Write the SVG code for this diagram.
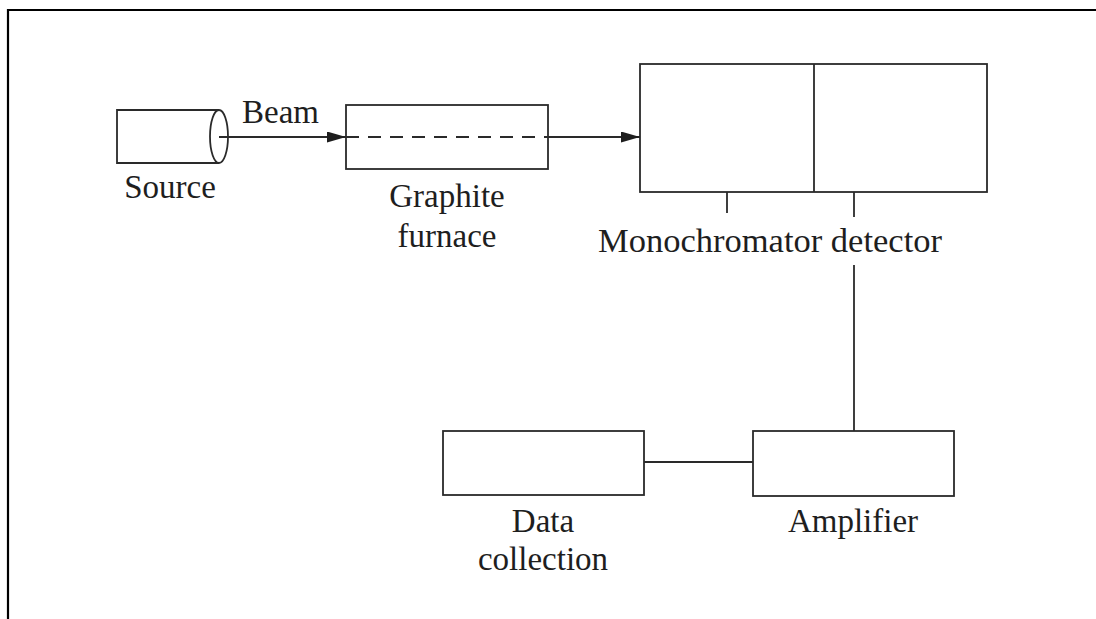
<svg xmlns="http://www.w3.org/2000/svg" width="1096" height="619" viewBox="0 0 1096 619">
  <style>
    .box { fill: #ffffff; stroke: #2a2a2a; stroke-width: 1.8; }
    .ln { fill: none; stroke: #2a2a2a; stroke-width: 1.8; }
    .lbl { font-family: "Liberation Serif", "Times New Roman", serif; font-size: 33px; fill: #1e1e1e; }
  </style>
  <defs>
    <marker id="arr" viewBox="0 0 19 11" refX="19" refY="5.5" markerWidth="19" markerHeight="11" markerUnits="userSpaceOnUse" orient="auto">
      <path d="M0,0 L19,5.5 L0,11 Z" fill="#1e1e1e"/>
    </marker>
  </defs>
  <rect x="0" y="0" width="1096" height="619" fill="#ffffff"/>
  <!-- frame -->
  <path d="M8,619 V10 H1096" fill="none" stroke="#000" stroke-width="2.2"/>

  <g id="source">
    <path class="ln" d="M219,110 H117 V163 H219"/>
    <ellipse class="box" cx="219" cy="136.5" rx="9" ry="26.5"/>
    <text class="lbl" x="170" y="198" text-anchor="middle">Source</text>
  </g>

  <g id="furnace">
    <rect class="box" x="346" y="105" width="202" height="64"/>
    <line class="ln" x1="346" y1="137" x2="548" y2="137" stroke-dasharray="13 9"/>
    <text class="lbl" x="447" y="207" text-anchor="middle">Graphite</text>
    <text class="lbl" x="447" y="247" text-anchor="middle">furnace</text>
  </g>

  <g id="monochromator-detector">
    <rect class="box" x="640" y="64" width="347" height="128"/>
    <line class="ln" x1="814" y1="64" x2="814" y2="192"/>
    <line class="ln" x1="727" y1="192" x2="727" y2="213"/>
    <line class="ln" x1="854" y1="192" x2="854" y2="217"/>
    <text class="lbl" x="770" y="252" text-anchor="middle" style="font-size:34.5px">Monochromator detector</text>
  </g>

  <g id="data-collection">
    <rect class="box" x="443" y="431" width="201" height="64"/>
    <text class="lbl" x="543" y="532" text-anchor="middle">Data</text>
    <text class="lbl" x="543" y="570" text-anchor="middle">collection</text>
  </g>

  <g id="amplifier">
    <rect class="box" x="753" y="431" width="201" height="65"/>
    <text class="lbl" x="853" y="532" text-anchor="middle">Amplifier</text>
  </g>

  <g id="connectors">
    <line class="ln" x1="219" y1="137" x2="346" y2="137" marker-end="url(#arr)"/>
    <text class="lbl" x="242" y="123">Beam</text>
    <line class="ln" x1="548" y1="137" x2="640" y2="137" marker-end="url(#arr)"/>
    <line class="ln" x1="854" y1="265" x2="854" y2="431"/>
    <line class="ln" x1="644" y1="462" x2="753" y2="462"/>
  </g>
</svg>
